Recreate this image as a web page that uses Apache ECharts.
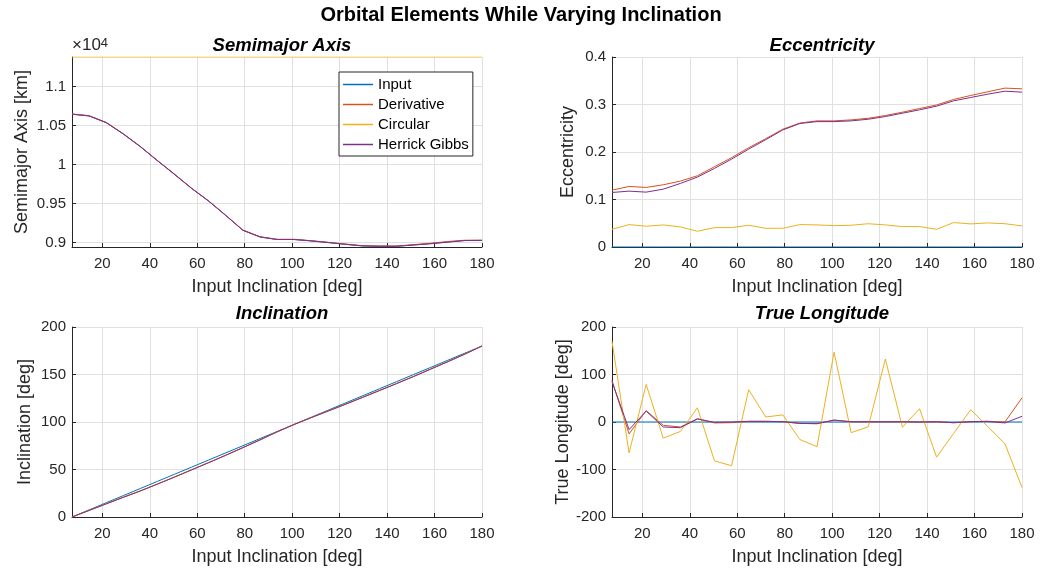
<!DOCTYPE html>
<html>
<head>
<meta charset="utf-8">
<script src="https://cdn.jsdelivr.net/npm/echarts@6/dist/echarts.min.js"></script>
<style>
html,body{margin:0;padding:0;background:#fff;}
#chart{width:1041px;height:571px;}
</style>
</head>
<body>
<div id="chart"></div>
<script>
// ---- data ----
const xVals = [7.2, 14.4, 21.6, 28.8, 36, 43.2, 50.4, 57.6, 64.8, 72, 79.2, 86.4, 93.6, 100.8, 108, 115.2, 122.4, 129.6, 136.8, 144, 151.2, 158.4, 165.6, 172.8, 180];
const xTicks = [20, 40, 60, 80, 100, 120, 140, 160, 180];
const seriesNames = ['Input', 'Derivative', 'Circular', 'Herrick Gibbs'];

// Semimajor axis [km]
const smaInput = [10645, 10623, 10537, 10392, 10229, 10049, 9874, 9694, 9531, 9347, 9158, 9072, 9039, 9039, 9021, 9000, 8978, 8957, 8953, 8953, 8970, 8987, 9008, 9026, 9027];
const smaDeriv = [10648, 10626, 10540, 10395, 10232, 10052, 9877, 9697, 9534, 9350, 9161, 9075, 9042, 9042, 9024, 9003, 8981, 8960, 8956, 8956, 8973, 8991, 9013, 9030, 9031];
const smaCirc  = [11378, 11378, 11378, 11378, 11378, 11378, 11378, 11378, 11378, 11378, 11378, 11378, 11378, 11378, 11378, 11378, 11378, 11378, 11378, 11378, 11378, 11378, 11378, 11378, 11378];
const smaHG    = [10645, 10623, 10537, 10392, 10229, 10049, 9874, 9694, 9531, 9347, 9158, 9072, 9039, 9039, 9021, 9000, 8978, 8957, 8952, 8952, 8968, 8985, 9005, 9026, 9027];
const smaTicks = [9000, 9500, 10000, 10500, 11000];

// Eccentricity
const eccInput = [0, 0, 0, 0, 0, 0, 0, 0, 0, 0, 0, 0, 0, 0, 0, 0, 0, 0, 0, 0, 0, 0, 0, 0, 0];
const eccDeriv = [0.1197, 0.1275, 0.1254, 0.131, 0.1387, 0.150, 0.169, 0.188, 0.209, 0.228, 0.248, 0.261, 0.2655, 0.2655, 0.2676, 0.271, 0.2768, 0.2838, 0.2915, 0.299, 0.3106, 0.319, 0.3268, 0.3345, 0.333];
const eccCirc  = [0.0373, 0.0472, 0.0437, 0.0465, 0.0423, 0.0331, 0.0408, 0.0408, 0.0458, 0.0394, 0.0394, 0.0472, 0.0465, 0.045, 0.0458, 0.049, 0.0465, 0.043, 0.043, 0.0373, 0.0514, 0.0486, 0.0507, 0.049, 0.0444];
const eccHG    = [0.1148, 0.1176, 0.1155, 0.1218, 0.1338, 0.1472, 0.1655, 0.185, 0.206, 0.226, 0.2465, 0.26, 0.264, 0.264, 0.2655, 0.269, 0.2746, 0.2817, 0.2887, 0.2965, 0.3077, 0.3148, 0.3218, 0.328, 0.326];

// Inclination [deg]
const incInput = [0, 7.5, 15, 22.5, 30, 37.5, 45, 52.5, 60, 67.5, 75, 82.5, 90, 97.5, 105, 112.5, 120, 127.5, 135, 142.5, 150, 157.5, 165, 172.5, 180];
const incDeriv = [0, 6.9, 13.9, 20.8, 27.5, 34.7, 42.1, 49.7, 57.3, 65.0, 73.0, 81.1, 89.6, 97.4, 104.6, 111.6, 118.7, 125.9, 133.2, 140.5, 148.0, 155.8, 163.5, 171.5, 180];
const incCirc  = [0, 6.9, 13.9, 20.8, 27.5, 34.7, 42.1, 49.7, 57.3, 65.0, 73.0, 81.1, 89.6, 97.4, 104.6, 111.6, 118.7, 125.9, 133.2, 140.5, 148.0, 155.8, 163.5, 171.5, 180];
const incHG    = [0, 6.9, 13.8, 20.7, 27.4, 34.6, 42.0, 49.6, 57.2, 65.0, 73.0, 81.1, 89.6, 97.4, 104.6, 111.6, 118.6, 125.8, 133.1, 140.4, 147.9, 155.7, 163.5, 171.5, 180];

// True longitude [deg]
const tlInput = [0, 0, 0, 0, 0, 0, 0, 0, 0, 0, 0, 0, 0, 0, 0, 0, 0, 0, 0, 0, 0, 0, 0, 0, 0];
const tlDeriv = [87, -25, 24, -7, -10.5, 7, -2, -1.4, 1.4, 1.4, 0.7, -3, -3.5, 4, 0.5, 0.5, 0.5, 0.5, 0, 0.5, -1.5, 0.7, 1.4, 0, 51];
const tlCirc  = [170, -65, 79, -34, -20, 30, -82, -92, 68, 10.5, 15, -37, -52, 147, -22.5, -10, 132.6, -11, 28, -74, -24, 26, -10, -45.6, -138];
const tlHG    = [85, -16, 23, -10.5, -12, 6.3, -0.7, 0, 1.4, 1.4, 0.7, -3, -3.5, 4, 0.5, 0.5, 0.5, 0.5, 0, 0.5, -1.5, 0.7, 1.4, -2, 12];

// ---- styling ----
const colors = ['#0072BD', '#D95319', '#EDB120', '#7E2F8E'];
const FONT = '"Liberation Sans", Arial, Helvetica, sans-serif';
const TXT = '#262626';

const grids = [
  {left: 72, top: 57, width: 410, height: 190},
  {left: 612, top: 57, width: 410, height: 190},
  {left: 72, top: 327, width: 410, height: 190},
  {left: 612, top: 327, width: 410, height: 190}
];

function xAxisFor(i) {
  return {
    type: 'value', gridIndex: i, min: 7.2, max: 180,
    name: 'Input Inclination [deg]', nameLocation: 'middle', nameGap: 31,
    nameTextStyle: {fontFamily: FONT, fontSize: 18, color: TXT},
    axisLine: {show: true, onZero: false, lineStyle: {color: TXT, width: 1}},
    axisTick: {show: true, inside: true, length: 4, customValues: xTicks, lineStyle: {color: TXT}},
    axisLabel: {customValues: xTicks, fontFamily: FONT, fontSize: 15, color: TXT, margin: 9},
    splitLine: {show: true, lineStyle: {color: '#e0e0e0', width: 1}}
  };
}
function yAxisFor(i, name, gap, extra) {
  return Object.assign({
    type: 'value', gridIndex: i,
    name: name, nameLocation: 'middle', nameGap: gap,
    nameTextStyle: {fontFamily: FONT, fontSize: 18, color: TXT},
    axisLine: {show: true, lineStyle: {color: TXT, width: 1}},
    axisTick: {show: true, inside: true, length: 4, lineStyle: {color: TXT}},
    axisLabel: {fontFamily: FONT, fontSize: 15, color: TXT, margin: 6},
    splitLine: {show: true, lineStyle: {color: '#e0e0e0', width: 1}}
  }, extra);
}

const smaYAxis = yAxisFor(0, 'Semimajor Axis [km]', 41, {min: 8943, max: 11378});
smaYAxis.axisTick.customValues = smaTicks;
smaYAxis.axisLabel.customValues = smaTicks;
smaYAxis.axisLabel.formatter = v => String(+(v / 1e4).toFixed(2));

const yAxes = [
  smaYAxis,
  yAxisFor(1, 'Eccentricity', 35, {min: 0, max: 0.4, interval: 0.1}),
  yAxisFor(2, 'Inclination [deg]', 38, {min: 0, max: 200, interval: 50}),
  yAxisFor(3, 'True Longitude [deg]', 40, {min: -200, max: 200, interval: 100})
];

const panels = [
  [smaInput, smaDeriv, smaCirc, smaHG],
  [eccInput, eccDeriv, eccCirc, eccHG],
  [incInput, incDeriv, incCirc, incHG],
  [tlInput, tlDeriv, tlCirc, tlHG]
];

const series = [];
panels.forEach((arrs, gi) => {
  arrs.forEach((arr, si) => {
    series.push({
      type: 'line', name: seriesNames[si], xAxisIndex: gi, yAxisIndex: gi,
      data: xVals.map((x, k) => [x, arr[k]]),
      symbol: 'none', showSymbol: false, animation: false,
      lineStyle: {color: colors[si], width: 1}, itemStyle: {color: colors[si]},
      z: 2 + si
    });
  });
});

const subTitle = (text, x, y) => ({
  text: text, left: x, top: y, textAlign: 'center',
  textStyle: {fontFamily: FONT, fontSize: 18.5, fontWeight: 'bold', fontStyle: 'italic', color: '#000'}
});

const option = {
  backgroundColor: '#fff',
  animation: false,
  title: [
    {text: 'Orbital Elements While Varying Inclination', left: 516, top: 0, textAlign: 'center',
     textStyle: {fontFamily: FONT, fontSize: 20, fontWeight: 'bold', color: '#000'}},
    subTitle('Semimajor Axis', 277, 31),
    subTitle('Eccentricity', 817, 31),
    subTitle('Inclination', 277, 299),
    subTitle('True Longitude', 817, 299)
  ],
  legend: {
    data: seriesNames, orient: 'vertical', left: 339, top: 72,
    icon: 'rect',
    backgroundColor: '#fff', borderColor: '#262626', borderWidth: 1,
    padding: [4, 4, 3, 4], itemGap: 3, itemWidth: 30, itemHeight: 1.5,
    textStyle: {fontFamily: FONT, fontSize: 15, color: '#000', lineHeight: 17},
    selectedMode: false
  },
  grid: grids,
  xAxis: [xAxisFor(0), xAxisFor(1), xAxisFor(2), xAxisFor(3)],
  yAxis: yAxes,
  series: series,
  graphic: [{
    type: 'text', left: 72, top: 37,
    style: {
      text: '×10{s|4}', fontFamily: FONT, fontSize: 17, fill: TXT,
      rich: {s: {fontSize: 13, verticalAlign: 'top', fill: TXT, fontFamily: FONT}}
    }
  }]
};

const chart = echarts.init(document.getElementById('chart'), null, {renderer: 'canvas'});
chart.setOption(option);
</script>
</body>
</html>
